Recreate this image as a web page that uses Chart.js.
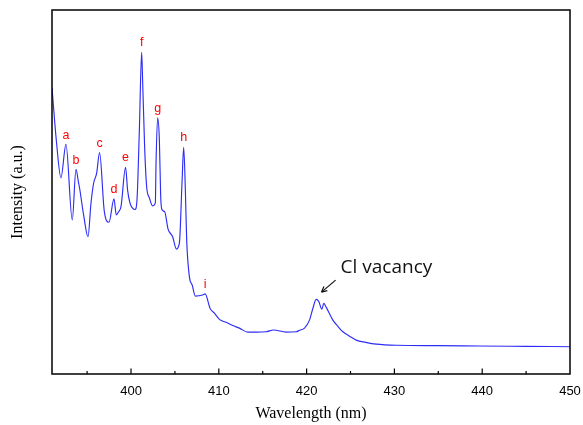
<!DOCTYPE html>
<html>
<head>
<meta charset="utf-8">
<script src="https://cdn.jsdelivr.net/npm/chart.js@4.4.1/dist/chart.umd.min.js"></script>
<style>
html,body{margin:0;padding:0;background:#fff;}
#wrap{width:583px;height:425px;position:relative;}
</style>
</head>
<body>
<div id="wrap"><canvas id="c" width="583" height="425"></canvas></div>
<script>
// Wavelength (nm)
const wavelength = [391.0, 391.5, 392.02, 392.59, 393.31, 393.73, 394.02, 394.14, 394.60, 395.10, 395.44, 395.74, 396.08, 396.42, 396.96, 397.49, 398.06, 398.32, 398.59, 398.86, 399.38, 399.61, 399.89, 400.46, 400.68, 400.95, 401.21, 401.32, 401.55, 401.78, 402.09, 402.46, 402.77, 402.85, 403.03, 403.23, 403.38, 403.53, 403.83, 404.22, 404.74, 405.17, 405.51, 405.82, 406.00, 406.19, 406.34, 406.65, 406.96, 407.33, 408.16, 408.44, 409.01, 409.50, 410.07, 410.83, 411.58, 412.35, 413.30, 414.25, 415.39, 416.23, 417.67, 418.81, 419.20, 419.76, 420.33, 420.71, 421.09, 421.39, 421.73, 421.96, 422.24, 422.99, 423.52, 424.13, 424.89, 425.66, 426.72, 427.94, 430.22, 435.0, 439.71, 445.0, 450.0];
// Intensity (a.u.)
const intensity = [78.6, 64.0, 53.9, 63.1, 42.3, 56.2, 52.6, 51.1, 43.7, 37.7, 46.9, 52.4, 55.1, 60.8, 44.6, 41.7, 48.1, 43.7, 44.6, 46.0, 56.8, 50.5, 46.9, 45.2, 47.8, 67.0, 88.4, 80.8, 62.4, 51.5, 48.4, 46.2, 47.0, 58.0, 70.4, 64.3, 48.7, 45.1, 44.6, 39.8, 37.7, 34.3, 36.0, 53.3, 62.3, 50.5, 36.8, 26.7, 24.5, 21.4, 21.7, 22.0, 18.0, 16.7, 15.0, 14.2, 13.3, 12.6, 11.5, 11.5, 11.6, 12.1, 11.5, 11.6, 12.0, 12.6, 14.8, 18.0, 20.5, 19.9, 17.8, 19.4, 18.3, 14.8, 13.2, 11.6, 10.4, 9.3, 8.7, 8.2, 7.9, 7.8, 7.7, 7.6, 7.5];
// Peak labels
const peakLabels = ['a', 'b', 'c', 'd', 'e', 'f', 'g', 'h', 'i'];
const peakX = [392.59, 393.73, 396.42, 398.06, 399.38, 401.21, 403.03, 406.00, 408.44];
const peakY = [63.1, 56.2, 60.8, 48.1, 56.8, 88.4, 70.4, 62.3, 22.0];
// Annotation
const annText = 'Cl vacancy';
const annArrowFrom = [423.3, 25.8];
const annArrowTo = [421.7, 22.5];
const annTextPos = [423.87, 29.3];

const frameAndTicks = {
  id: 'frameAndTicks',
  afterDraw(chart) {
    const ctx = chart.ctx;
    const a = chart.chartArea;
    const xs = chart.scales.x;
    const ys = chart.scales.y;
    ctx.save();
    ctx.strokeStyle = '#000';
    ctx.lineWidth = 1.5;
    ctx.strokeRect(a.left, a.top, a.right - a.left, a.bottom - a.top);
    ctx.lineWidth = 1.2;
    xs.ticks.forEach(t => {
      const v = t.value;
      if (Math.abs(v % 5) > 1e-6) return;
      if (v <= xs.min || v >= xs.max) return;
      const px = xs.getPixelForValue(v);
      const len = (Math.abs(v % 10) < 1e-6) ? 5.5 : 3;
      ctx.beginPath();
      ctx.moveTo(px, a.bottom);
      ctx.lineTo(px, a.bottom - len);
      ctx.stroke();
    });
    // peak labels
    ctx.fillStyle = '#ff0000';
    ctx.font = '12.5px "Liberation Sans", Arial, sans-serif';
    ctx.textAlign = 'center';
    ctx.textBaseline = 'bottom';
    peakLabels.forEach((l, i) => {
      const px = xs.getPixelForValue(peakX[i]);
      const py = ys.getPixelForValue(peakY[i]);
      ctx.fillText(l, px, py - 3);
    });
    // annotation
    ctx.fillStyle = '#111';
    ctx.font = '19px "Open Sans", "Noto Sans", sans-serif';
    ctx.textAlign = 'left';
    ctx.textBaseline = 'middle';
    ctx.fillText(annText, xs.getPixelForValue(annTextPos[0]), ys.getPixelForValue(annTextPos[1]));
    const x1 = xs.getPixelForValue(annArrowFrom[0]), y1 = ys.getPixelForValue(annArrowFrom[1]);
    const x2 = xs.getPixelForValue(annArrowTo[0]), y2 = ys.getPixelForValue(annArrowTo[1]);
    ctx.strokeStyle = '#111';
    ctx.lineWidth = 1.2;
    ctx.beginPath();
    ctx.moveTo(x1, y1);
    ctx.lineTo(x2, y2);
    ctx.stroke();
    const ang = Math.atan2(y2 - y1, x2 - x1);
    const h = 6;
    ctx.beginPath();
    ctx.moveTo(x2, y2);
    ctx.lineTo(x2 - h * Math.cos(ang - 0.45), y2 - h * Math.sin(ang - 0.45));
    ctx.moveTo(x2, y2);
    ctx.lineTo(x2 - h * Math.cos(ang + 0.45), y2 - h * Math.sin(ang + 0.45));
    ctx.stroke();
    ctx.restore();
  }
};

const points = wavelength.map((w, i) => ({x: w, y: intensity[i]}));

new Chart(document.getElementById('c'), {
  type: 'line',
  data: {
    datasets: [{
      data: points,
      borderColor: 'rgb(45,45,245)',
      borderWidth: 1.15,
      pointRadius: 0,
      cubicInterpolationMode: 'monotone',
      fill: false
    }]
  },
  options: {
    responsive: false,
    animation: false,
    devicePixelRatio: 1,
    layout: {padding: {top: 10, right: 13, left: 0, bottom: 0}},
    plugins: {legend: {display: false}, tooltip: {enabled: false}},
    scales: {
      x: {
        type: 'linear',
        min: 391,
        max: 450,
        afterFit(s) { s.height = 51; s.paddingRight = 0; s.paddingLeft = 0; },
        grid: {display: false, drawTicks: false},
        border: {display: false},
        ticks: {
          stepSize: 5,
          autoSkip: false,
          maxRotation: 0,
          padding: 10,
          color: '#000',
          font: {family: '"Liberation Sans", Arial, sans-serif', size: 13},
          callback: v => (Math.abs(v % 10) < 1e-6 ? String(v) : '')
        },
        title: {
          display: true,
          text: 'Wavelength (nm)',
          color: '#000',
          font: {family: '"Liberation Serif", "Times New Roman", serif', size: 16},
          padding: {top: 0, bottom: 2}
        }
      },
      y: {
        min: 0,
        max: 100,
        afterFit(s) { s.width = 52; },
        grid: {display: false, drawTicks: false},
        border: {display: false},
        ticks: {display: false},
        title: {
          display: true,
          text: 'Intensity (a.u.)',
          color: '#000',
          font: {family: '"Liberation Serif", "Times New Roman", serif', size: 16},
          padding: {top: 8, bottom: 0}
        }
      }
    }
  },
  plugins: [frameAndTicks]
});
</script>
</body>
</html>
